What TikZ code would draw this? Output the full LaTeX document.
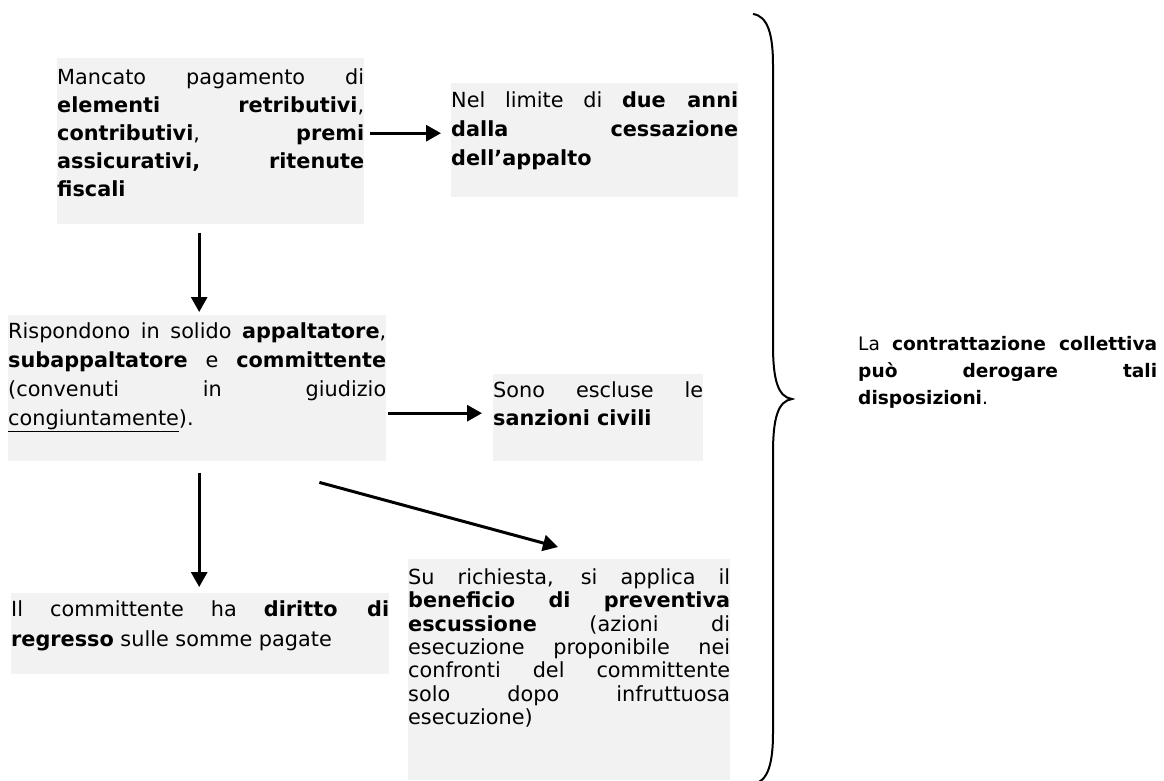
\documentclass[tikz,border=0pt]{standalone}
\usepackage{fontspec}
\setmainfont{DejaVu Sans}
\usetikzlibrary{arrows.meta,calc}
\definecolor{grigio}{HTML}{F2F2F2}
\tolerance=10000 \hbadness=10000 \hyphenpenalty=10000

\begin{document}
\begin{tikzpicture}[x=1pt, y=-1pt,
  riquadro/.style={anchor=north west, fill=grigio, inner sep=0pt, align=justify},
  freccia/.style={-{Triangle[length=15pt,width=16pt]}, line width=3pt},
  graffa/.style={line width=2pt}]
  \useasboundingbox (0,0) rectangle (1164,780);

  % colonna di sinistra
  \node[riquadro, text width=307pt, text height=26pt, text depth=140pt,
        font={\fontsize{20.8}{28}\selectfont}] (mancato) at (57,58)
    {Mancato pagamento di\linebreak \textbf{elementi retributivi},\linebreak
     \textbf{contributivi}, \textbf{premi}\linebreak
     \textbf{assicurativi, ritenute}\linebreak \textbf{fiscali}};
  \node[riquadro, text width=287pt, text height=24pt, text depth=90pt,
        font={\fontsize{20.8}{29}\selectfont}] (limite) at (451,83)
    {Nel limite di \textbf{due anni}\linebreak \textbf{dalla cessazione}\linebreak
     \textbf{dell’appalto}};

  \node[riquadro, text width=378pt, text height=23pt, text depth=123pt,
        font={\fontsize{20.8}{29}\selectfont}] (rispondono) at (8,315)
    {Rispondono in solido \textbf{appaltatore},\linebreak
     \textbf{subappaltatore} e \textbf{committente}\linebreak
     (convenuti in giudizio\linebreak \underline{congiuntamente}).};
  \node[riquadro, text width=210pt, text height=23pt, text depth=64pt,
        font={\fontsize{20.8}{28}\selectfont}] (escluse) at (493,374)
    {Sono escluse le\linebreak \textbf{sanzioni civili}};

  % in basso
  \node[riquadro, text width=378pt, text height=23pt, text depth=58pt,
        font={\fontsize{20.8}{30}\selectfont}] (regresso) at (11,593)
    {Il committente ha \textbf{diritto di}\linebreak
     \textbf{regresso} sulle somme pagate};
  \node[riquadro, text width=322pt, text height=25pt, text depth=196pt,
        font={\fontsize{20.8}{23.4}\selectfont}] (beneficio) at (408,559)
    {Su richiesta, si applica il\linebreak \textbf{beneficio di preventiva}\linebreak
     \textbf{escussione} (azioni di\linebreak esecuzione proponibile nei\linebreak
     confronti del committente\linebreak solo dopo infruttuosa\linebreak esecuzione)};

  % frecce
  \draw[freccia] ($(mancato.east)+(6,-8)$) -- ($(limite.west)+(-10,-7)$);
  \draw[freccia] ($(mancato.south)+(-11.5,9)$) -- ($(rispondono.north)+(2,-3)$);
  \draw[freccia] ($(rispondono.east)+(2,25)$) -- ($(escluse.west)+(-11,-4.5)$);
  \draw[freccia] ($(rispondono.south)+(2,12)$) -- ($(regresso.north)+(-1,-6)$);
  \draw[freccia] ($(rispondono.south east)+(-67,21)$) -- ($(beneficio.north west)+(150,-12)$);

  % graffa e nota a destra
  \coordinate (punta) at (792,399);
  \draw[graffa] (753,14) .. controls (768,16) and (773,35) .. (773,65)
    -- (773,345) .. controls (773,380) and (778,397) .. (punta)
    .. controls (778,401) and (773,418) .. (773,453)
    -- (773,733) .. controls (773,763) and (768,782) .. (753,784);
  \node[anchor=base west, inner sep=0pt, text width=299pt, align=justify,
        font={\fontsize{18.6}{27}\selectfont}] (deroga) at (858,350)
    {La \textbf{contrattazione collettiva}\linebreak \textbf{può derogare tali}\linebreak
     \textbf{disposizioni}.};
\end{tikzpicture}
\end{document}
